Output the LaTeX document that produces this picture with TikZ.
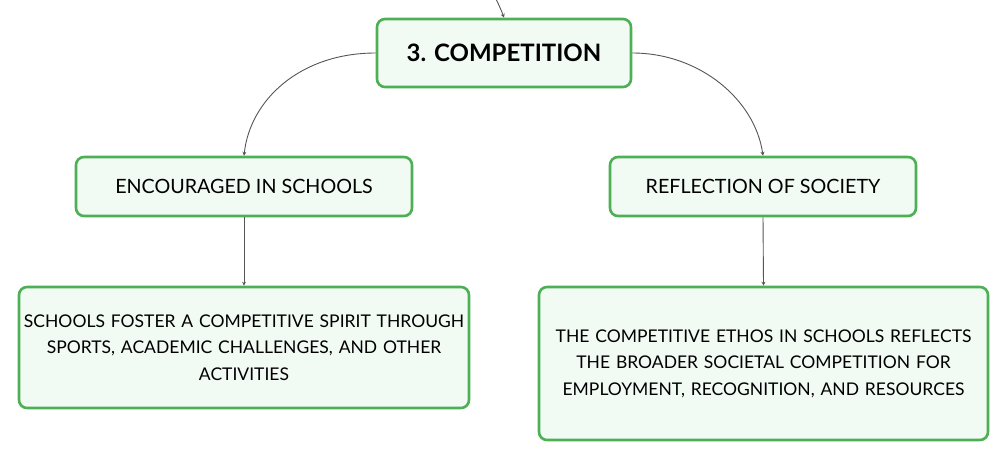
\documentclass[tikz,border=0pt]{standalone}
\usepackage{fontspec}
\setmainfont{Lato}
\usetikzlibrary{arrows.meta}
\definecolor{boxgreen}{HTML}{4DB055}
\definecolor{boxfill}{HTML}{F2FAF4}
\definecolor{edgegray}{HTML}{555555}
\tikzset{
  mbox/.style={draw=boxgreen, line width=2.6pt, fill=boxfill, rounded corners=8pt, align=center, inner sep=0pt, text=black, font=\fontsize{17.5}{26.5}\selectfont},
  lbl/.style={font=\fontsize{19.7}{24}\selectfont},
  conn/.style={draw=edgegray, line width=0.9pt, -{Stealth[length=4pt,width=4pt]}}
}
\begin{document}
\begin{tikzpicture}[x=1pt,y=-1pt]
\useasboundingbox (0,0) rectangle (1008,461);
\node[mbox, minimum width=254pt, minimum height=68pt, font=\fontsize{24}{28}\selectfont\bfseries] (top) at (504,53) {3. COMPETITION};
\node[mbox, lbl, minimum width=336pt, minimum height=59pt] (enc) at (244,186.5) {ENCOURAGED IN SCHOOLS};
\node[mbox, lbl, minimum width=306pt, minimum height=59pt] (ref) at (763,186.5) {REFLECTION OF SOCIETY};
\node[mbox, minimum width=450pt, minimum height=121pt, text width=446pt] (sch) at (244,347.5) {SCHOOLS FOSTER A COMPETITIVE SPIRIT THROUGH\\SPORTS, ACADEMIC CHALLENGES, AND OTHER\\ACTIVITIES};
\node[mbox, minimum width=449pt, minimum height=153pt, text width=445pt] (eth) at (763.5,363.5) {THE COMPETITIVE ETHOS IN SCHOOLS REFLECTS\\THE BROADER SOCIETAL COMPETITION FOR\\EMPLOYMENT, RECOGNITION, AND RESOURCES};
\coordinate (in) at (495,-3);
\draw[conn] (in) .. controls (499,5) and (502,12) .. (top.north);
\draw[conn] (top.west) .. controls (300,53) and (250,100) .. (enc.north);
\draw[conn] (top.east) .. controls (700,53) and (755,100) .. (ref.north);
\draw[conn] (enc.south) -- (sch.north);
\draw[conn] (ref.south) -- (eth.north);
\end{tikzpicture}
\end{document}
